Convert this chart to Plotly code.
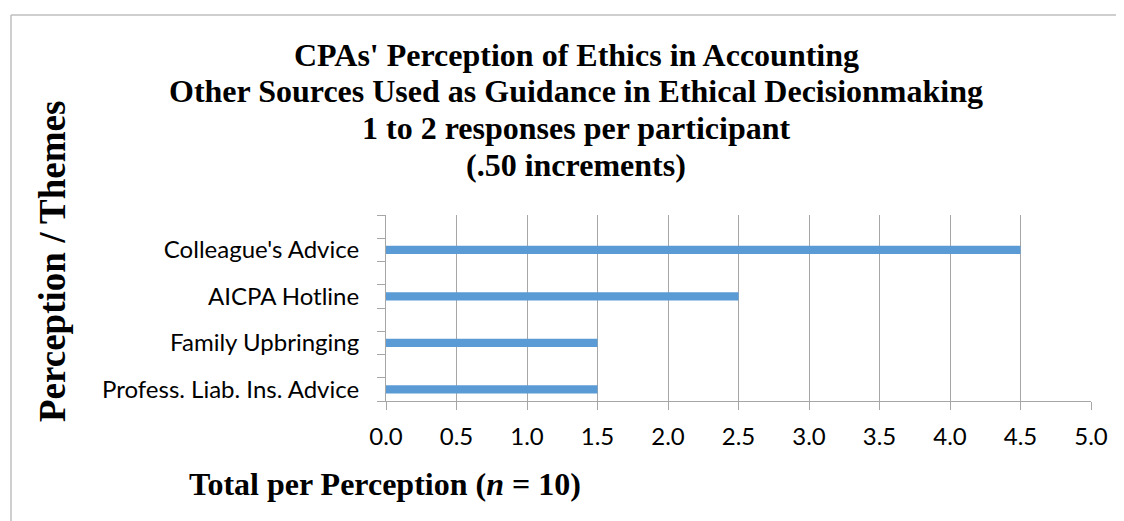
import plotly.graph_objects as go

categories = ["Profess. Liab. Ins. Advice", "Family Upbringing", "AICPA Hotline", "Colleague's Advice"]
totals = [1.5, 1.5, 2.5, 4.5]
x_ticks = [0.0, 0.5, 1.0, 1.5, 2.0, 2.5, 3.0, 3.5, 4.0, 4.5, 5.0]

title_lines = [
    "CPAs' Perception of Ethics in Accounting",
    "Other Sources Used as Guidance in Ethical Decisionmaking",
    "1 to 2 responses per participant",
    "(.50 increments)",
]

# page body has an 8px margin, so the figure is drawn 8px in from the corner
OFF = 8
W, H = 1124 - OFF, 521 - OFF
L, R, T, B = 386 - OFF, 33, 215 - OFF, 120
pw, ph = W - L - R, H - T - B

# each category takes two slots, bar sits in the lower one (Excel style)
pos = [2 * i + 0.5 for i in range(len(categories))]

grid = "#A6A6A6"
serif = "Liberation Serif, Times New Roman, serif"
sans = "Lato, Open Sans, sans-serif"


def px(x):
    return (x - OFF - L) / pw


def py(y):
    return (H - B - (y - OFF)) / ph


fig = go.Figure()
fig.add_trace(go.Bar(
    x=totals,
    y=pos,
    orientation="h",
    width=0.36,
    marker=dict(color="#5B9BD5", line=dict(width=0)),
    hovertemplate="%{customdata}: %{x}<extra></extra>",
    customdata=categories,
))

annotations = []
for i, line in enumerate(title_lines):
    annotations.append(dict(
        text="<b>" + line + "</b>", x=px(576), y=py(55 + i * 36.5),
        xref="paper", yref="paper", showarrow=False,
        font=dict(family=serif, size=32, color="black"),
        xanchor="center", yanchor="middle",
    ))
annotations.append(dict(
    text="<b>Perception / Themes</b>", x=px(52), y=py(262),
    xref="paper", yref="paper", showarrow=False, textangle=-90,
    font=dict(family=serif, size=37, color="black"),
    xanchor="center", yanchor="middle",
))
annotations.append(dict(
    text="<b>Total per Perception (<i>n</i> = 10)</b>", x=px(385), y=py(484),
    xref="paper", yref="paper", showarrow=False,
    font=dict(family=serif, size=32, color="black"),
    xanchor="center", yanchor="middle",
))

shapes = [
    dict(type="line", xref="paper", yref="paper", x0=px(11), x1=px(11), y0=py(15), y1=py(540),
         line=dict(color="#BFBFBF", width=1.5)),
    dict(type="line", xref="paper", yref="paper", x0=px(11), x1=px(1140), y0=py(15), y1=py(15),
         line=dict(color="#BFBFBF", width=1.5)),
]

fig.update_layout(
    width=W, height=H,
    margin=dict(l=L, r=R, t=T, b=B),
    plot_bgcolor="white", paper_bgcolor="white",
    showlegend=False,
    annotations=annotations,
    shapes=shapes,
    xaxis=dict(
        range=[0, 5], tickvals=x_ticks, ticktext=[f"{v:.1f}" for v in x_ticks],
        showgrid=True, gridcolor=grid, gridwidth=1,
        zeroline=False, showline=True, linecolor=grid, linewidth=1,
        ticks="outside", ticklen=8, tickcolor=grid,
        tickfont=dict(family=sans, size=24, color="black"),
        ticklabelstandoff=6,
        fixedrange=True,
    ),
    yaxis=dict(
        range=[0, 8], tickvals=pos, ticktext=categories,
        ticks="", showgrid=False, zeroline=False,
        showline=True, linecolor=grid, linewidth=1,
        tickfont=dict(family=sans, size=24, color="black"),
        ticklabelstandoff=21,
        minor=dict(tickvals=list(range(9)), ticks="outside", ticklen=8, tickcolor=grid, showgrid=False),
        fixedrange=True,
    ),
)

fig.write_html("out.html")
